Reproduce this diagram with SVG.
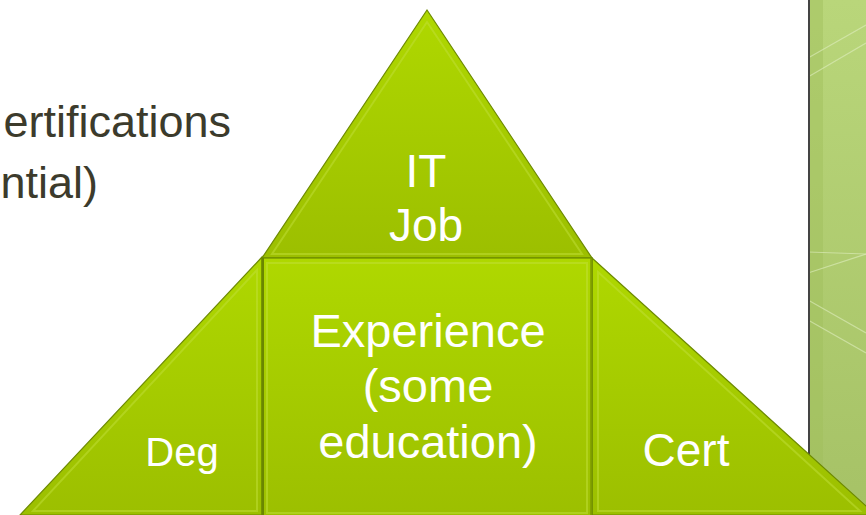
<svg xmlns="http://www.w3.org/2000/svg" width="866" height="515" viewBox="0 0 866 515">
<style>
.lbl{font-family:"Liberation Sans",Arial,sans-serif;fill:#ffffff;text-anchor:middle}
.bt{font-family:"Liberation Sans",Arial,sans-serif;fill:#3c3b2c;font-size:45px;text-anchor:end}
.shape{stroke:#6d8a00;stroke-width:1.2}
.bevel{fill:none;stroke:#c2e03a;stroke-opacity:0.5;stroke-width:2}
</style>
<defs>
<linearGradient id="g" x1="0" y1="0" x2="0" y2="1">
<stop offset="0" stop-color="#afd800"/>
<stop offset="1" stop-color="#9cbf00"/>
</linearGradient>
<linearGradient id="gp" x1="0" y1="0" x2="0" y2="1">
<stop offset="0" stop-color="#b9d67a"/>
<stop offset="1" stop-color="#a6c266"/>
</linearGradient>
</defs>
<rect width="866" height="515" fill="#ffffff"/>
<g id="panel">
<rect x="808" y="0" width="58" height="515" fill="url(#gp)"/>
<rect x="809" y="0" width="14" height="515" fill="#9fbe5a" opacity="0.45"/>
<g stroke="#dfeec0" stroke-opacity="0.6" stroke-width="1.2">
<line x1="808" y1="58" x2="866" y2="25"/>
<line x1="808" y1="77" x2="866" y2="43"/>
<line x1="808" y1="252" x2="866" y2="254"/>
<line x1="808" y1="273" x2="866" y2="254"/>
<line x1="808" y1="300" x2="866" y2="333"/>
<line x1="808" y1="320" x2="866" y2="353"/>
</g>
<line x1="809" y1="0" x2="809" y2="460" stroke="#444444" stroke-width="2"/>
</g>
<g id="body-text">
<text class="bt" x="231" y="137">ertifications</text>
<text class="bt" x="98" y="198">ntial)</text>
</g>
<g id="node-cert">
<polygon class="shape" points="592,258 876,515 592,515" fill="url(#g)"/>
<polygon class="bevel" points="598,272 860,511 598,511"/>
<text class="lbl" x="686" y="466" font-size="46">Cert</text>
</g>
<g id="node-deg">
<polygon class="shape" points="262,257 20,515 262,515" fill="url(#g)"/>
<polygon class="bevel" points="257,270 33,511 257,511"/>
<text class="lbl" x="182" y="466" font-size="40">Deg</text>
</g>
<g id="node-job">
<polygon class="shape" points="427,10 262,258 592,258" fill="url(#g)"/>
<polygon class="bevel" points="427,22 272,254 582,254"/>
<text class="lbl" x="426" y="187" font-size="46">IT</text>
<text class="lbl" x="426" y="241" font-size="46">Job</text>
</g>
<g id="node-experience">
<rect class="shape" x="262" y="258" width="330" height="260" fill="url(#g)"/>
<rect class="bevel" x="267" y="263" width="320" height="250"/>
<line x1="263" y1="258" x2="263" y2="515" stroke="#6a8600" stroke-width="2"/>
<line x1="591" y1="258" x2="591" y2="515" stroke="#7c9a00" stroke-width="1.5"/>
<text class="lbl" x="428" y="347" font-size="47">Experience</text>
<text class="lbl" x="428" y="402" font-size="47">(some</text>
<text class="lbl" x="428" y="458" font-size="47">education)</text>
</g>
<g id="connectors"/>
</svg>
